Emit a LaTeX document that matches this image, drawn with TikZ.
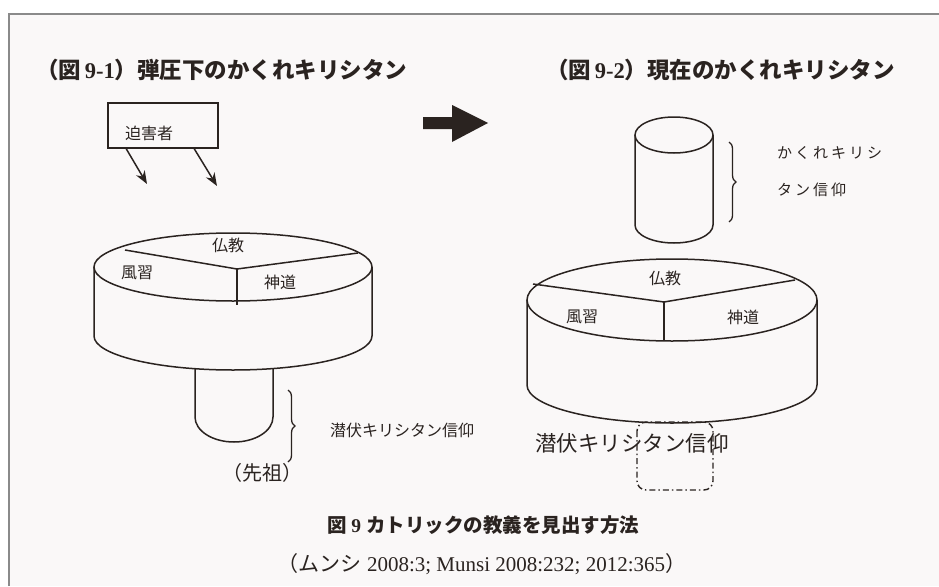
\documentclass[tikz,border=0pt]{standalone}
\usepackage{fontspec}
\setmainfont{Liberation Serif}
\newfontfamily\cjk{Noto Sans CJK JP}
\newfontfamily\cjksp{Noto Sans CJK JP}[LetterSpace=20]
\usetikzlibrary{arrows.meta,decorations.pathreplacing,calc}
\definecolor{ink}{HTML}{2A2320}
\definecolor{paper}{HTML}{FAF8F8}
\definecolor{frame}{HTML}{8A8A8A}
\tikzset{
  ln/.style={draw=ink,line width=1.5pt},
  lbl/.style={text=ink,inner sep=0pt,font=\cjk\fontsize{16}{18}\selectfont},
  ttl/.style={text=ink,inner sep=0pt,anchor=west,font=\bfseries\fontsize{22.5}{26}\selectfont},
  brc/.style={draw=ink,line width=1.3pt,decorate,decoration={brace,amplitude=7pt}},
}
\begin{document}
\begin{tikzpicture}[x=1pt,y=-1pt]
\useasboundingbox (0,0) rectangle (939,586);
\fill[white] (0,0) rectangle (939,586);
\fill[paper] (9,14) rectangle (939,586);
\draw[frame,line width=2pt] (9,586) -- (9,14) -- (939,14);

% titles
\node[ttl] (t1) at (36,70) {{\cjk\bfseries （図}\,9-1{\cjk\bfseries ）弾圧下のかくれキリシタン}};
\node[ttl] (t2) at (546,70) {{\cjk\bfseries （図}\,9-2{\cjk\bfseries ）現在のかくれキリシタン}};

% persecutor box
\node[ln,minimum width=110pt,minimum height=45pt,inner sep=0pt] (perp) at (163,125.5) {};
\node[lbl,anchor=center] (perplbl) at (149,133) {迫害者};
\coordinate (a1s) at ($(perp.south west)!0.17!(perp.south east)$);
\coordinate (a2s) at ($(perp.south west)!0.78!(perp.south east)$);
\coordinate (a1e) at (147,184);
\coordinate (a2e) at (217,186);
\draw[ln,-{Stealth[length=13pt,width=10pt]}] (a1s) -- (a1e);
\draw[ln,-{Stealth[length=13pt,width=10pt]}] (a2s) -- (a2e);

% big arrow
\fill[ink] (423,117) -- (452,117) -- (452,105) -- (488,123) -- (452,142) -- (452,129) -- (423,129) -- cycle;

% left disk
\draw[ln] (233,267) ellipse [x radius=139,y radius=34];
\draw[ln] (94,267) -- (94,336) arc [start angle=180,end angle=360,x radius=139,y radius=-34] -- (372,267);
\coordinate (lv) at (237,269);
\draw[ln] (125,250) -- (lv) -- (358,253);
\draw[ln] (lv) -- (237,305);
\node[lbl] (lbud) at (228,245) {仏教};
\node[lbl] (lfus) at (137,273) {風習};
\node[lbl] (lshi) at (280,282) {神道};
% stem
\draw[ln] (195,369) -- (195,417) arc [start angle=180,end angle=360,x radius=39,y radius=-25] -- (273,369);
\draw[brc] (288,390) -- (288,462);
\node[lbl,anchor=west] (lsen) at (330,430) {潜伏キリシタン信仰};
\node[lbl,anchor=center,font=\cjk\fontsize{20}{22}\selectfont] (anc) at (262,473) {（先祖）};

% right small cylinder
\draw[ln] (674,135) ellipse [x radius=39,y radius=18];
\draw[ln] (635,135) -- (635,225) arc [start angle=180,end angle=360,x radius=39,y radius=-18] -- (713,135);
\draw[brc] (729,142) -- (729,222);
\node[lbl,anchor=west,font=\cjksp\fontsize{15}{17}\selectfont] (kak1) at (777,153) {かくれキリシ};
\node[lbl,anchor=west,font=\cjksp\fontsize{15}{17}\selectfont] (kak2) at (777,190) {タン信仰};

% right disk
\draw[ln] (672,300) ellipse [x radius=145,y radius=41];
\draw[ln] (527,300) -- (527,385) arc [start angle=180,end angle=360,x radius=145,y radius=-38] -- (817,300);
\coordinate (rv) at (664,302);
\draw[ln] (533,284) -- (rv) -- (795,280);
\draw[ln] (rv) -- (664,341);
\node[lbl] (rbud) at (665,278) {仏教};
\node[lbl] (rfus) at (582,317) {風習};
\node[lbl] (rshi) at (743,317) {神道};
\draw[draw=ink,line width=1.4pt,rounded corners=9pt,dash pattern=on 6pt off 3pt on 1.5pt off 3pt] (637,422) rectangle (713,490);
\node[lbl,anchor=west,font=\cjk\fontsize{21.5}{24}\selectfont] (rsen) at (535,443) {潜伏キリシタン信仰};

% caption
\node[ttl,anchor=center,font=\bfseries\fontsize{19.5}{22}\selectfont] (cap) at (483,525) {{\cjk\bfseries 図}\ 9\ {\cjk\bfseries カトリックの教義を見出す方法}};
\node[text=ink,inner sep=0pt,font=\fontsize{21}{24}\selectfont] (cit) at (482,564) {{\cjk （ムンシ}\ 2008:3; Munsi 2008:232; 2012:365{\cjk ）}};
\end{tikzpicture}
\end{document}
